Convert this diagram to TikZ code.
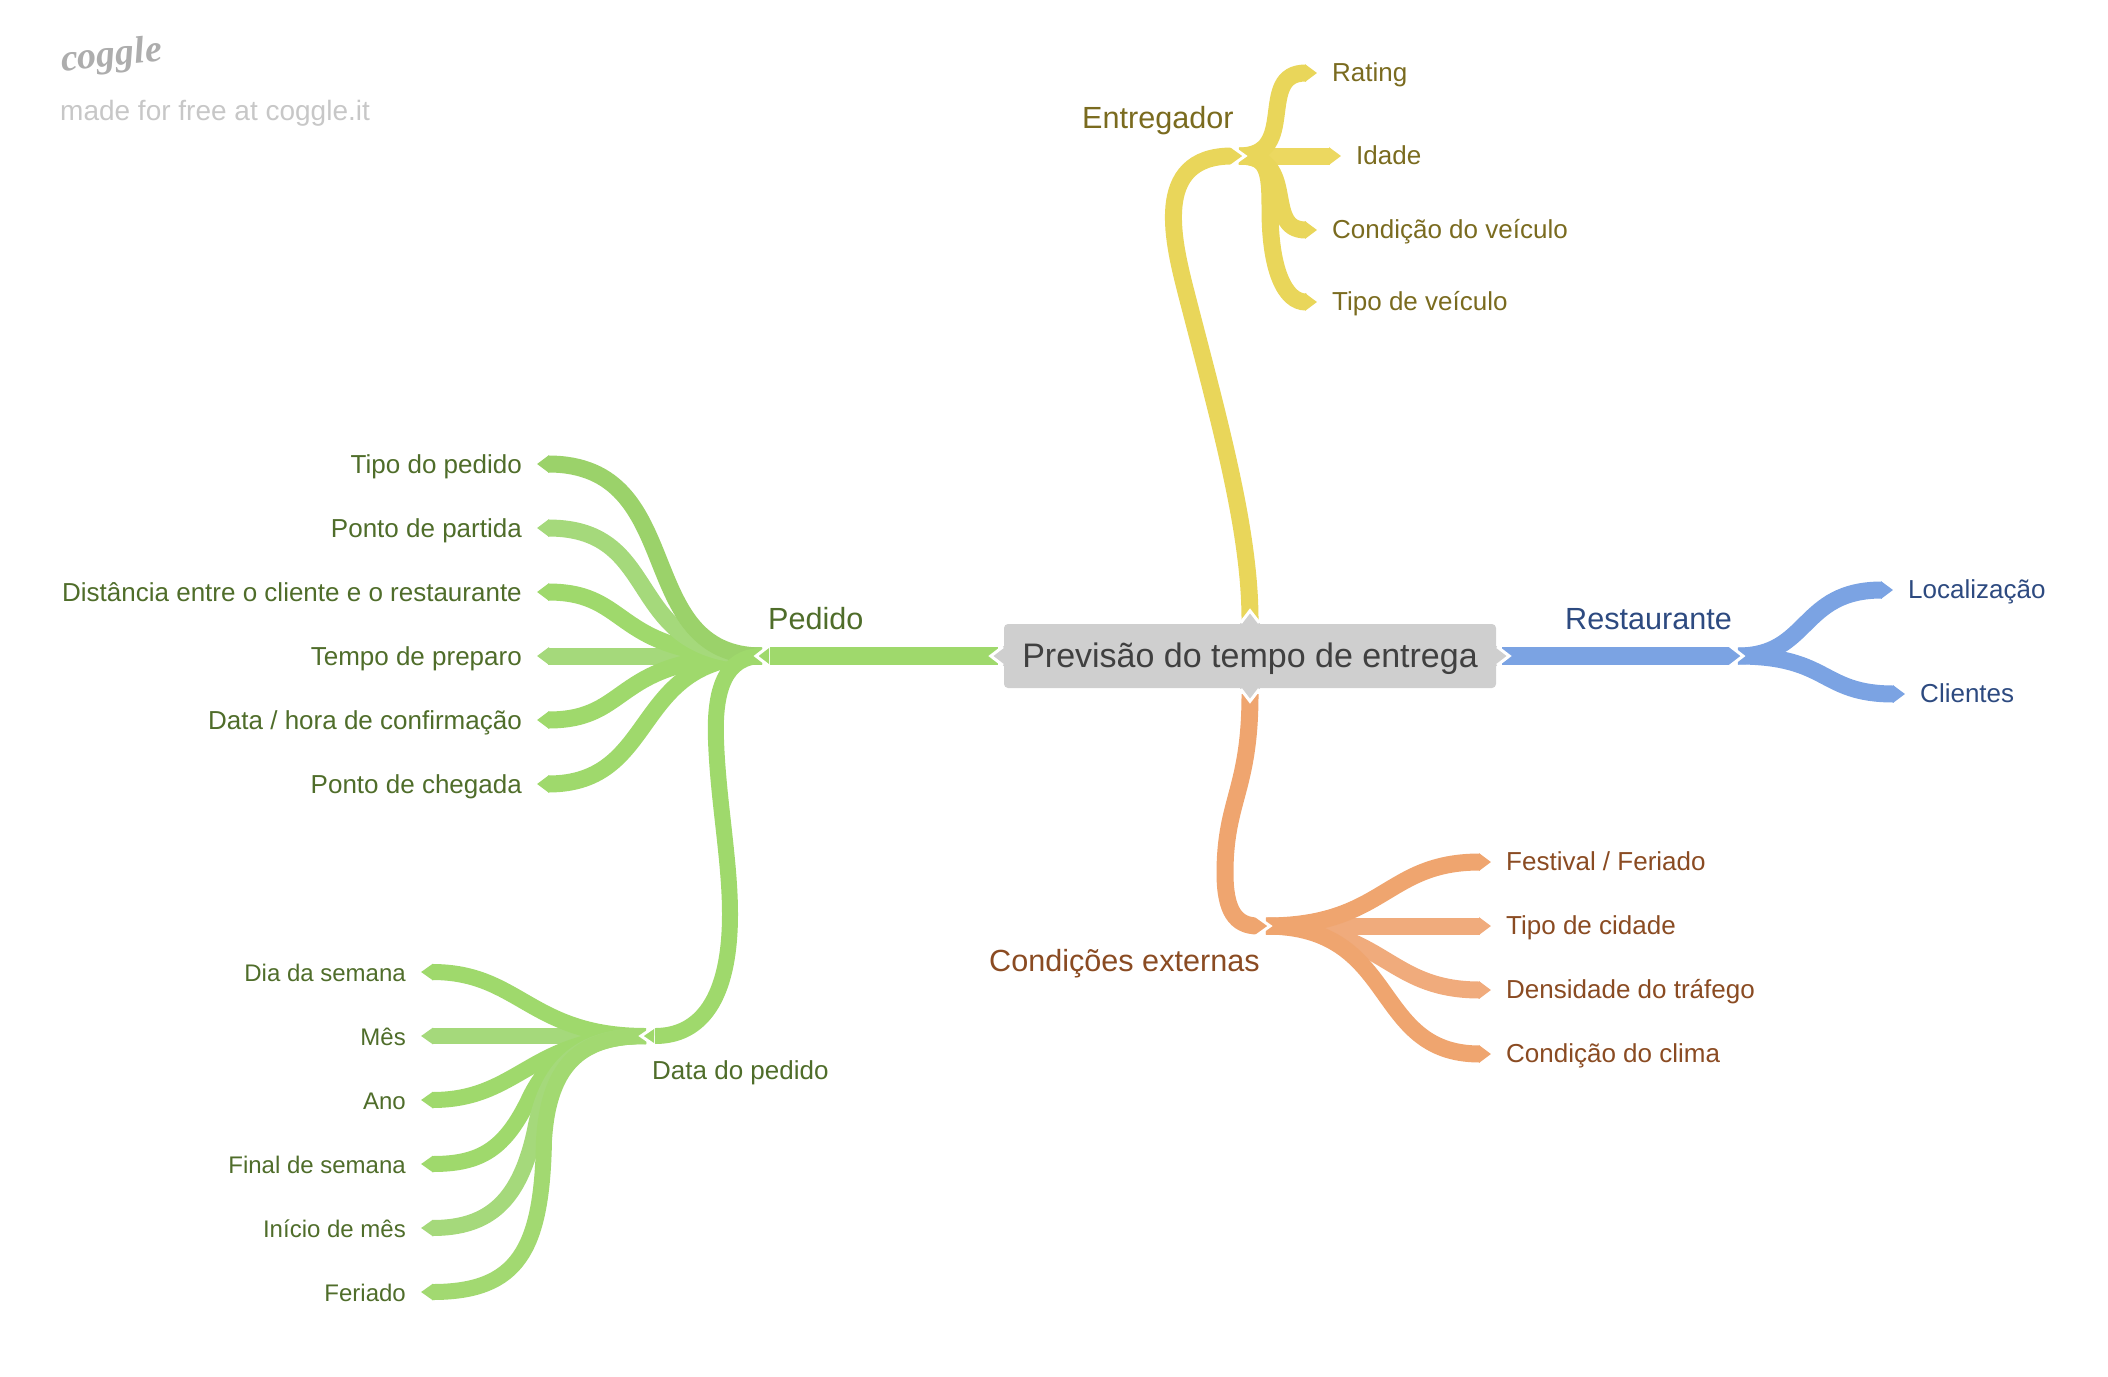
\documentclass[tikz,border=0pt]{standalone}
\usepackage{fontspec}
\setmainfont{Liberation Sans}
\newfontfamily\logofont{Liberation Serif}
\usetikzlibrary{positioning,arrows.meta}

\definecolor{grA}{HTML}{9BD26A}
\definecolor{grB}{HTML}{A5D97B}
\definecolor{grC}{HTML}{9FD96C}
\definecolor{grD}{HTML}{A2D971}
\definecolor{ylA}{HTML}{E9D65A}
\definecolor{ylB}{HTML}{ECD860}
\definecolor{orA}{HTML}{EFA56F}
\definecolor{orB}{HTML}{F0AB7C}
\definecolor{blA}{HTML}{7BA3E3}
\definecolor{txGr}{HTML}{4F6D2A}
\definecolor{txYl}{HTML}{7A6B1F}
\definecolor{txBl}{HTML}{2D4A80}
\definecolor{txOr}{HTML}{8A4B22}
\definecolor{boxGray}{HTML}{CFCFCF}

% chevron on the end of a branch: coordinate, angle, colour, half width
\newcommand{\hubtip}[4]{
    \fill[#3, shift={(#1)}, rotate=#2] (13,#4) -- (0,0) -- (13,-#4) -- cycle;
    \draw[white, line width=3pt, shift={(#1)}, rotate=#2] (16,#4+3) -- (0,0) -- (16,-#4-3);
}
% same for the pointers of the root box
\newcommand{\ptrtip}[2]{
    \fill[boxGray, shift={(#1)}, rotate=#2] (13,10) -- (0,0) -- (13,-10) -- cycle;
    \draw[white, line width=3pt, shift={(#1)}, rotate=#2] (12,9.2) -- (0,0) -- (12,-9.2);
}

\tikzset{
    leaf/.style={line width=17pt, -{Triangle[length=12pt,width=17pt]}},
    subleaf/.style={line width=16pt, -{Triangle[length=12pt,width=16pt]}},
    stem/.style={line width=17pt},
    txt/.style={inner sep=0pt, text height=22pt, text depth=3pt, font=\fontsize{26}{30}\selectfont},
    uptxt/.style={txt, text height=20pt},
    subtxt/.style={inner sep=0pt, text height=21pt, text depth=3pt, font=\fontsize{24}{28}\selectfont, text=txGr},
    headtxt/.style={inner sep=0pt, anchor=west, text height=24pt, text depth=3pt, font=\fontsize{30.6}{34}\selectfont},
}

\begin{document}
\begin{tikzpicture}[x=1pt, y=1pt]
    \useasboundingbox (0,0) rectangle (2108,-1376);

    %% Logo
    \node[inner sep=0pt, anchor=west, rotate=6, text=black!32, font=\logofont\fontsize{38}{42}\selectfont\bfseries\itshape] (logo) at (61,-62) {coggle};
    \node[inner sep=0pt, anchor=west, text=black!22, text height=24pt, text depth=3pt, font=\fontsize{28}{32}\selectfont] (made) at (60,-110) {made for free at coggle.it};

    %% Root
    \node[fill=boxGray, rounded corners=4pt, minimum width=492pt, minimum height=64pt, inner sep=0pt, text height=28pt, text depth=6pt, text=black!75, font=\fontsize{34}{38}\selectfont] (root) at (1250,-656) {Previsão do tempo de entrega};

    %% Hubs and leaf ends
    \coordinate (hubP) at (762,-656);
    \coordinate (tipP) at (756,-656);
    \coordinate (hubD) at (646,-1036);
    \coordinate (tipD) at (641,-1036);
    \coordinate (hubY) at (1239,-156);
    \coordinate (tipY) at (1245,-156);
    \coordinate (hubB) at (1738,-656);
    \coordinate (tipB) at (1743,-656);
    \coordinate (hubO) at (1266,-926);
    \coordinate (tipO) at (1270,-926);

    \coordinate (p1) at (537,-464);
    \coordinate (p2) at (537,-528);
    \coordinate (p3) at (537,-592);
    \coordinate (p4) at (537,-656);
    \coordinate (p5) at (537,-720);
    \coordinate (p6) at (537,-784);

    \coordinate (d1) at (421,-972);
    \coordinate (d2) at (421,-1036);
    \coordinate (d3) at (421,-1100);
    \coordinate (d4) at (421,-1164);
    \coordinate (d5) at (421,-1228);
    \coordinate (d6) at (421,-1292);

    \coordinate (y1) at (1317,-73);
    \coordinate (y2) at (1341,-156);
    \coordinate (y3) at (1317,-230);
    \coordinate (y4) at (1317,-302);

    \coordinate (b1) at (1893,-590);
    \coordinate (b2) at (1905,-694);

    \coordinate (o1) at (1491,-862);
    \coordinate (o2) at (1491,-926);
    \coordinate (o3) at (1491,-990);
    \coordinate (o4) at (1491,-1054);

    %% Pedido
    \draw[leaf, grB] (hubP) -- (p4);
    \draw[leaf, grC] (hubP) .. controls +(-152,0) and +(97,0) .. (p3);
    \draw[leaf, grC] (hubP) .. controls +(-152,0) and +(97,0) .. (p5);
    \draw[leaf, grC] (hubP) .. controls +(-132,0) and +(123,0) .. (p6);
    \draw[leaf, grB] (hubP) .. controls +(-142,0) and +(130,0) .. (p2);
    \draw[leaf, grA] (hubP) .. controls +(-132,0) and +(153,0) .. (p1);

    %% Data do pedido
    \draw[subleaf, grB] (hubD) -- (d2);
    \draw[subleaf, grC] (hubD) .. controls +(-116,0) and +(99,0) .. (d1);
    \draw[subleaf, grC] (hubD) .. controls +(-116,0) and +(99,0) .. (d3);
    \draw[subleaf, grC] (hubD) .. controls (590,-1036) and (553,-1050) .. (530,-1097) .. controls (505,-1150) and (480,-1164) .. (d4);
    \draw[subleaf, grB] (hubD) .. controls (585,-1036) and (548,-1060) .. (535,-1130) .. controls (520,-1200) and (490,-1228) .. (d5);
    \draw[subleaf, grD] (hubD) .. controls (585,-1036) and (549,-1060) .. (544,-1140) .. controls (542,-1250) and (518,-1292) .. (d6);

    \draw[stem, line width=16pt, grC] (hubP) .. controls (725,-656) and (714,-690) .. (716,-740) .. controls (718,-800) and (730,-860) .. (730,-914) .. controls (730,-1000) and (700,-1036) .. ([xshift=14pt]tipD);
    \hubtip{tipD}{0}{grC}{8}

    \draw[stem, line width=18.7pt, grC] ([xshift=-6pt]root.west) -- ([xshift=14pt]tipP);
    \hubtip{tipP}{0}{grC}{9.35}

    %% Entregador
    \draw[leaf, ylB] (hubY) -- (y2);
    \draw[leaf, ylA] (hubY) .. controls +(61,0) and +(-62,0) .. (y1);
    \draw[leaf, ylA] (hubY) .. controls +(61,0) and +(-55,0) .. (y3);
    \draw[leaf, ylA] (hubY) .. controls (1268,-156) and (1270,-170) .. (1270,-210) .. controls (1270,-270) and (1285,-302) .. (y4);
    \draw[stem, ylA] ([yshift=4pt]root.north) .. controls (1250,-530) and (1219,-420) .. (1187,-296) .. controls (1174,-245) and (1150,-156) .. ([xshift=-13pt]tipY);
    \hubtip{tipY}{180}{ylA}{8.5}

    %% Restaurante
    \draw[leaf, blA] (hubB) .. controls +(72,0) and +(-93,0) .. (b1);
    \draw[leaf, blA] (hubB) .. controls +(92,0) and +(-85,0) .. (b2);
    \draw[stem, line width=18.7pt, blA] ([xshift=6pt]root.east) -- ([xshift=-13pt]tipB);
    \hubtip{tipB}{180}{blA}{9.35}

    %% Condicoes externas
    \draw[leaf, orB] (hubO) -- (o2);
    \draw[leaf, orB] (hubO) .. controls +(119,0) and +(-106,0) .. (o3);
    \draw[leaf, orA] (hubO) .. controls +(119,0) and +(-106,0) .. (o1);
    \draw[leaf, orA] (hubO) .. controls +(134,0) and +(-121,0) .. (o4);
    \draw[stem, orA] ([yshift=-6pt]root.south) .. controls (1250,-790) and (1225,-800) .. (1225,-873) .. controls (1225,-910) and (1235,-926) .. ([xshift=-12pt]tipO);
    \hubtip{tipO}{180}{orA}{8.5}

    %% Root pointers
    \path (root.west) ++(-13,0) coordinate (ptrL);
    \path (root.east) ++(13,0) coordinate (ptrR);
    \path (root.north) ++(0,13) coordinate (ptrT);
    \path (root.south) ++(0,-13) coordinate (ptrB);
    \ptrtip{ptrL}{0}
    \ptrtip{ptrR}{180}
    \ptrtip{ptrT}{-90}
    \ptrtip{ptrB}{90}

    %% Labels
    \node[headtxt, text=txGr] (lP) at (768,-619) {Pedido};
    \node[headtxt, text=txYl] (lY) at (1082,-118) {Entregador};
    \node[headtxt, text=txBl] (lB) at (1565,-619) {Restaurante};
    \node[headtxt, text=txOr] (lO) at (989,-961) {Condições externas};
    \node[txt, anchor=west, text=txGr] (lD) at (652,-1070) {Data do pedido};

    \node[txt, text=txGr, left=15pt of p1] (lp1) {Tipo do pedido};
    \node[txt, text=txGr, left=15pt of p2] (lp2) {Ponto de partida};
    \node[txt, text=txGr, left=15pt of p3] (lp3) {Distância entre o cliente e o restaurante};
    \node[txt, text=txGr, left=15pt of p4] (lp4) {Tempo de preparo};
    \node[txt, text=txGr, left=15pt of p5] (lp5) {Data / hora de confirmação};
    \node[txt, text=txGr, left=15pt of p6] (lp6) {Ponto de chegada};

    \node[subtxt, left=15pt of d1] (ld1) {Dia da semana};
    \node[subtxt, left=15pt of d2] (ld2) {Mês};
    \node[subtxt, left=15pt of d3] (ld3) {Ano};
    \node[subtxt, left=15pt of d4] (ld4) {Final de semana};
    \node[subtxt, left=15pt of d5] (ld5) {Início de mês};
    \node[subtxt, left=15pt of d6] (ld6) {Feriado};

    \node[uptxt, text=txYl, right=15pt of y1] (ly1) {Rating};
    \node[uptxt, text=txYl, right=15pt of y2] (ly2) {Idade};
    \node[uptxt, text=txYl, right=15pt of y3] (ly3) {Condição do veículo};
    \node[uptxt, text=txYl, right=15pt of y4] (ly4) {Tipo de veículo};

    \node[uptxt, text=txBl, right=15pt of b1] (lb1) {Localização};
    \node[uptxt, text=txBl, right=15pt of b2] (lb2) {Clientes};

    \node[uptxt, text=txOr, right=15pt of o1] (lo1) {Festival / Feriado};
    \node[uptxt, text=txOr, right=15pt of o2] (lo2) {Tipo de cidade};
    \node[uptxt, text=txOr, right=15pt of o3] (lo3) {Densidade do tráfego};
    \node[uptxt, text=txOr, right=15pt of o4] (lo4) {Condição do clima};
\end{tikzpicture}
\end{document}
